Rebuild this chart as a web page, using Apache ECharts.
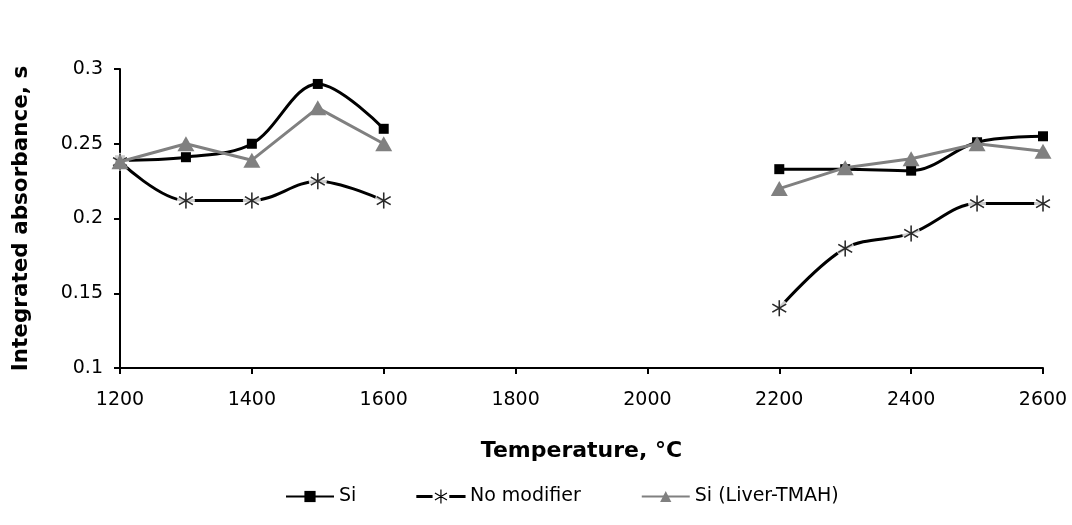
<!DOCTYPE html>
<html>
<head>
<meta charset="utf-8">
<script src="https://cdn.jsdelivr.net/npm/echarts@6/dist/echarts.min.js"></script>
<style>
html,body{margin:0;padding:0;background:#fff;}
#chart{width:1072px;height:525px;}
</style>
</head>
<body>
<div id="chart"></div>
<script>
// Temperatures (°C); null marks the break between the two measured ranges
var temperatures = [1200, 1300, 1400, 1500, 1600, 1900, 2200, 2300, 2400, 2500, 2600];
var si          = [0.239, 0.241, 0.250, 0.290, 0.260, null, 0.233, 0.233, 0.232, 0.251, 0.255];
var noModifier  = [0.238, 0.212, 0.212, 0.225, 0.212, null, 0.140, 0.180, 0.190, 0.210, 0.210];
var siLiverTMAH = [0.238, 0.250, 0.239, 0.274, 0.250, null, 0.220, 0.234, 0.240, 0.250, 0.245];
var seriesNames = ['Si', 'No modifier', 'Si (Liver-TMAH)'];

function pairs(ys) {
  return temperatures.map(function (t, i) { return [t, ys[i] === null ? '-' : ys[i]]; });
}
function pointsOnly(ys) {
  return temperatures.map(function (t, i) { return [t, ys[i]]; })
    .filter(function (p) { return p[1] !== null; });
}

var asterisk = 'path://M5,0L5,10M0.67,2.5L9.33,7.5M0.67,7.5L9.33,2.5';
var asteriskLegend = 'path://M0,6H15V8H0Z M33,6H48V8H33Z M24,0L24,14 M18,3.5L30,10.5 M18,10.5L30,3.5';
var font = 'DejaVu Sans, Verdana, sans-serif';

var chart = echarts.init(document.getElementById('chart'));
chart.setOption({
  animation: false,
  backgroundColor: '#fff',
  grid: { left: 120, right: 29, top: 69, bottom: 157, containLabel: false },
  legend: {
    data: [
      { name: seriesNames[0] },
      { name: seriesNames[1], icon: asteriskLegend,
        itemStyle: { color: '#000', borderColor: '#000', borderWidth: 1.2 } },
      { name: seriesNames[2] }
    ],
    bottom: 14,
    left: 280,
    itemGap: 60,
    itemWidth: 48,
    itemHeight: 14,
    textStyle: { fontFamily: font, fontSize: 19, color: '#000' }
  },
  xAxis: {
    type: 'value',
    min: 1200, max: 2600, interval: 200,
    name: 'Temperature, °C',
    nameLocation: 'middle',
    nameGap: 72,
    nameTextStyle: { fontFamily: font, fontSize: 22, fontWeight: 'bold', color: '#000' },
    axisLine: { lineStyle: { color: '#000', width: 2 } },
    axisTick: { show: true, length: 6, lineStyle: { color: '#000', width: 2 } },
    axisLabel: { fontFamily: font, fontSize: 19, color: '#000', margin: 23,
      formatter: function (v) { return String(v); } },
    splitLine: { show: false }
  },
  yAxis: {
    type: 'value',
    min: 0.1, max: 0.3, interval: 0.05,
    name: 'Integrated absorbance, s',
    nameLocation: 'middle',
    nameGap: 88,
    nameRotate: 90,
    nameTextStyle: { fontFamily: font, fontSize: 21.5, fontWeight: 'bold', color: '#000' },
    axisLine: { show: true, lineStyle: { color: '#000', width: 2 } },
    axisTick: { show: true, length: 6, lineStyle: { color: '#000', width: 2 } },
    axisLabel: { fontFamily: font, fontSize: 19, color: '#000', margin: 17 },
    splitLine: { show: false }
  },
  series: [
    {
      name: 'Si', type: 'line', z: 2,
      data: pairs(si), smooth: 0.35, connectNulls: false,
      symbol: 'rect', symbolSize: 10,
      itemStyle: { color: '#000' },
      lineStyle: { color: '#000', width: 3 }
    },
    {
      name: 'No modifier', type: 'line', z: 2,
      data: pairs(noModifier), smooth: 0.35, connectNulls: false,
      symbol: asterisk, symbolSize: 16, symbolKeepAspect: true,
      itemStyle: { color: '#000', borderColor: '#000', borderWidth: 1.5 },
      lineStyle: { color: '#000', width: 3 }
    },
    {
      name: 'nm-gap', type: 'scatter', z: 3, silent: true,
      data: pointsOnly(noModifier),
      symbol: 'circle', symbolSize: 18,
      itemStyle: { color: '#fff' }
    },
    {
      name: 'nm-mark', type: 'scatter', z: 4, silent: true,
      data: pointsOnly(noModifier),
      symbol: asterisk, symbolSize: 16, symbolKeepAspect: true,
      itemStyle: { color: '#000', borderColor: '#000', borderWidth: 1.5 }
    },
    {
      name: 'Si (Liver-TMAH)', type: 'line', z: 5,
      data: pairs(siLiverTMAH), smooth: false, connectNulls: false,
      symbol: 'triangle', symbolSize: [17, 15],
      itemStyle: { color: '#808080' },
      lineStyle: { color: '#808080', width: 3 }
    }
  ]
});
</script>
</body>
</html>
